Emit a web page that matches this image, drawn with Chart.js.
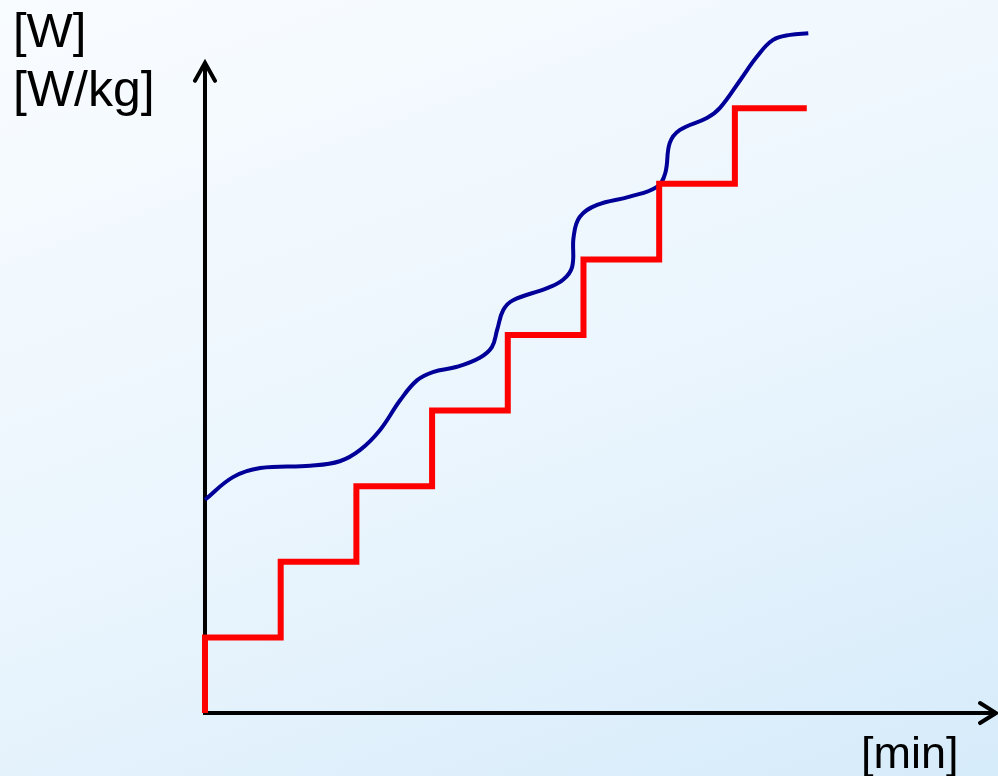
<!DOCTYPE html>
<html>
<head>
<meta charset="utf-8">
<script src="https://cdn.jsdelivr.net/npm/chart.js@4"></script>
<style>
    html, body { margin: 0; padding: 0; }
    body {
        width: 998px;
        height: 776px;
        overflow: hidden;
        position: relative;
        background: linear-gradient(160deg, #f9fcff 0%, #eaf5fd 55%, #d6ebfa 100%);
        font-family: "Liberation Sans", Arial, sans-serif;
    }
    #chart { position: absolute; left: 0; top: 0; }
    .label { position: absolute; color: #000; line-height: 1; white-space: nowrap; }
</style>
</head>
<body>
<canvas id="chart" width="998" height="776"></canvas>
<div class="label" style="left:13px; top:6px; font-size:49px;">[W]</div>
<div class="label" style="left:13px; top:64px; font-size:50px;">[W/kg]</div>
<div class="label" style="left:861px; top:730px; font-size:45px;">[min]</div>
<script>
// step protocol (red) - load level per stage
const stepX = [0, 0, 1, 2, 3, 4, 5, 6, 7, 7.95];
const stepY = [0, 1, 2, 3, 4, 5, 6, 7, 8, 8];

// response curve (blue)
const curveX = [0, 0.37, 0.73, 1.39, 1.78, 2.05, 2.31, 2.58, 2.80, 3.01, 3.33, 3.63, 3.79, 3.86, 3.94, 4.07,
    4.52, 4.73, 4.85, 4.87, 4.95, 5.18, 5.61, 5.97, 6.08, 6.14, 6.27, 6.63, 6.80, 7.07, 7.29, 7.50, 7.73, 7.97];
const curveY = [2.82, 3.12, 3.24, 3.27, 3.33, 3.48, 3.74, 4.14, 4.40, 4.51, 4.58, 4.70, 4.84, 5.07, 5.33, 5.46,
    5.62, 5.73, 5.90, 6.30, 6.56, 6.72, 6.83, 6.96, 7.14, 7.54, 7.71, 7.87, 8.00, 8.37, 8.68, 8.90, 8.97, 8.99];

// axis extents in data units
const xAxisEnd = 10.45;
const yAxisEnd = 8.6;

const toPoints = (xs, ys) => xs.map((x, i) => ({ x: x, y: ys[i] }));

// draws the two arrowed axes through the origin
const arrowAxes = {
    id: 'arrowAxes',
    beforeDatasetsDraw(chart) {
        const ctx = chart.ctx;
        const xs = chart.scales.x, ys = chart.scales.y;
        const x0 = xs.getPixelForValue(0), y0 = ys.getPixelForValue(0);
        const xe = xs.getPixelForValue(xAxisEnd), ye = ys.getPixelForValue(yAxisEnd);
        ctx.save();
        ctx.strokeStyle = '#000';
        ctx.lineWidth = 4;
        ctx.lineCap = 'butt';
        ctx.beginPath();
        ctx.moveTo(x0, y0);
        ctx.lineTo(x0, ye + 2);
        ctx.moveTo(x0 - 2, y0);
        ctx.lineTo(xe - 2, y0);
        ctx.stroke();
        // arrow heads
        ctx.lineCap = 'round';
        ctx.lineJoin = 'miter';
        ctx.beginPath();
        ctx.moveTo(x0 - 10, ye + 18);
        ctx.lineTo(x0, ye);
        ctx.lineTo(x0 + 10, ye + 18);
        ctx.moveTo(xe - 16, y0 - 10);
        ctx.lineTo(xe, y0);
        ctx.lineTo(xe - 16, y0 + 10);
        ctx.stroke();
        ctx.restore();
    }
};

new Chart(document.getElementById('chart').getContext('2d'), {
    type: 'line',
    data: {
        datasets: [{
            label: 'Stufe',
            data: toPoints(stepX, stepY),
            borderColor: '#ff0000',
            borderWidth: 6,
            stepped: 'before',
            pointRadius: 0,
            fill: false
        }, {
            label: 'Kurve',
            data: toPoints(curveX, curveY),
            borderColor: '#000099',
            borderWidth: 4,
            tension: 0.4,
            pointRadius: 0,
            fill: false
        }]
    },
    options: {
        responsive: false,
        animation: false,
        layout: { padding: 0 },
        plugins: {
            legend: { display: false },
            tooltip: { enabled: false }
        },
        scales: {
            x: { type: 'linear', display: false, min: -2.708, max: 10.476 },
            y: { type: 'linear', display: false, min: -0.833, max: 9.431 }
        }
    },
    plugins: [arrowAxes]
});
</script>
</body>
</html>
